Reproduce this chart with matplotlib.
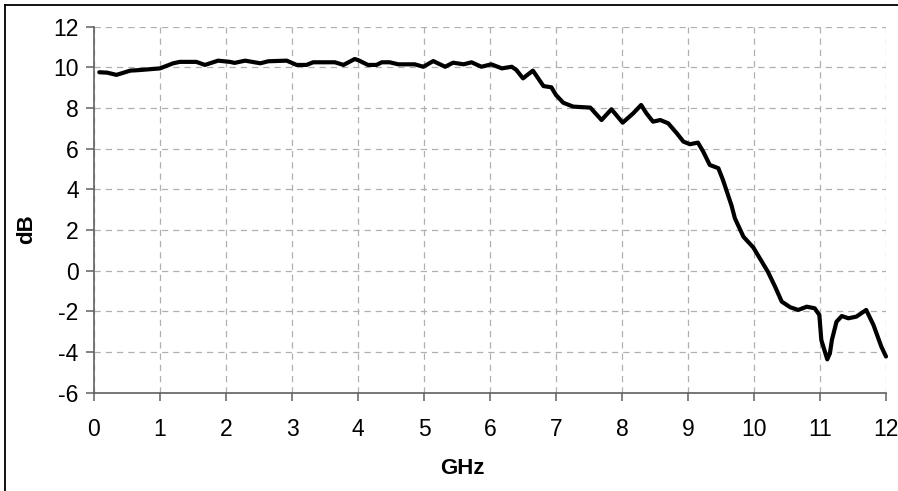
import matplotlib.pyplot as plt
from matplotlib.lines import Line2D

plt.rcParams['font.family'] = ['Liberation Sans', 'DejaVu Sans']
plt.rcParams['axes.unicode_minus'] = False

# gain vs frequency
freq_ghz = [0.08, 0.2, 0.34, 0.55, 0.7, 1.0, 1.2, 1.3, 1.55, 1.68, 1.88, 2.06, 2.13,
            2.29, 2.52, 2.64, 2.92, 3.07, 3.22, 3.32, 3.65, 3.78, 3.95, 4.0, 4.15,
            4.28, 4.36, 4.48, 4.61, 4.86, 4.99, 5.14, 5.32, 5.44, 5.6, 5.72, 5.87,
            6.02, 6.18, 6.33, 6.4, 6.5, 6.65, 6.81, 6.93, 7.0, 7.11, 7.26, 7.52,
            7.69, 7.84, 8.01, 8.17, 8.29, 8.37, 8.47, 8.58, 8.7, 8.83, 8.93, 9.03,
            9.15, 9.23, 9.33, 9.46, 9.53, 9.66, 9.71, 9.84, 9.99, 10.21, 10.32,
            10.42, 10.55, 10.67, 10.8, 10.92, 10.99, 11.02, 11.11, 11.15, 11.18,
            11.25, 11.33, 11.43, 11.55, 11.7, 11.81, 11.93, 12.0]
gain_db = [9.76, 9.74, 9.63, 9.84, 9.87, 9.95, 10.2, 10.27, 10.27, 10.12, 10.33,
           10.27, 10.22, 10.33, 10.2, 10.3, 10.33, 10.12, 10.12, 10.25, 10.25,
           10.12, 10.41, 10.36, 10.12, 10.12, 10.25, 10.25, 10.15, 10.15, 10.03,
           10.31, 10.03, 10.23, 10.15, 10.25, 10.03, 10.15, 9.95, 10.03, 9.87,
           9.46, 9.84, 9.08, 9.02, 8.64, 8.26, 8.07, 8.02, 7.41, 7.94, 7.28, 7.74,
           8.15, 7.74, 7.33, 7.41, 7.25, 6.76, 6.35, 6.22, 6.3, 5.86, 5.2, 5.04,
           4.46, 3.2, 2.58, 1.67, 1.14, -0.05, -0.79, -1.52, -1.8, -1.93, -1.77,
           -1.85, -2.18, -3.41, -4.36, -4.07, -3.41, -2.51, -2.23, -2.34, -2.26,
           -1.93, -2.67, -3.74, -4.22]

fig = plt.figure(figsize=(8.98, 4.91), dpi=100)
ax = fig.add_axes([94 / 898, 1 - 392.7 / 491, 792 / 898, 366 / 491])

ax.plot(freq_ghz, gain_db, color='black', linewidth=3.0, solid_joinstyle='round',
        solid_capstyle='round', clip_on=False, zorder=3)

ax.set_xlim(0, 12)
ax.set_ylim(-6, 12)
ax.set_xticks(range(0, 13))
ax.set_yticks(range(-6, 13, 2))
ax.grid(True, color='#b0b0b0', linestyle=(0, (5, 4)), linewidth=0.9)
ax.set_axisbelow(True)

for side in ['top', 'right']:
    ax.spines[side].set_visible(False)
for side in ['left', 'bottom']:
    ax.spines[side].set_color('#606060')
    ax.spines[side].set_linewidth(1.2)

ax.tick_params(direction='out', length=6, width=1.1, color='#606060',
               labelsize=16.5, pad=5)
ax.tick_params(axis='x', pad=12)

ax.set_xlabel('GHz', fontsize=16, fontweight='bold', va='center', ha='center')
ax.set_ylabel('dB', fontsize=16, fontweight='bold', va='center', ha='center')
ax.xaxis.set_label_coords((462 - 94) / 792, (392.7 - 468) / 366)
ax.yaxis.set_label_coords((27 - 94) / 792, (392.7 - 229) / 366)

# chart border (only the left and top edges show in the reference)
fig.add_artist(Line2D([4.5 / 898, 4.5 / 898], [0, 1 - 4.5 / 491],
                      transform=fig.transFigure, color='black', linewidth=1.3))
fig.add_artist(Line2D([4.5 / 898, 1], [1 - 4.5 / 491, 1 - 4.5 / 491],
                      transform=fig.transFigure, color='black', linewidth=1.3))

fig.savefig('out.png', dpi=100)
